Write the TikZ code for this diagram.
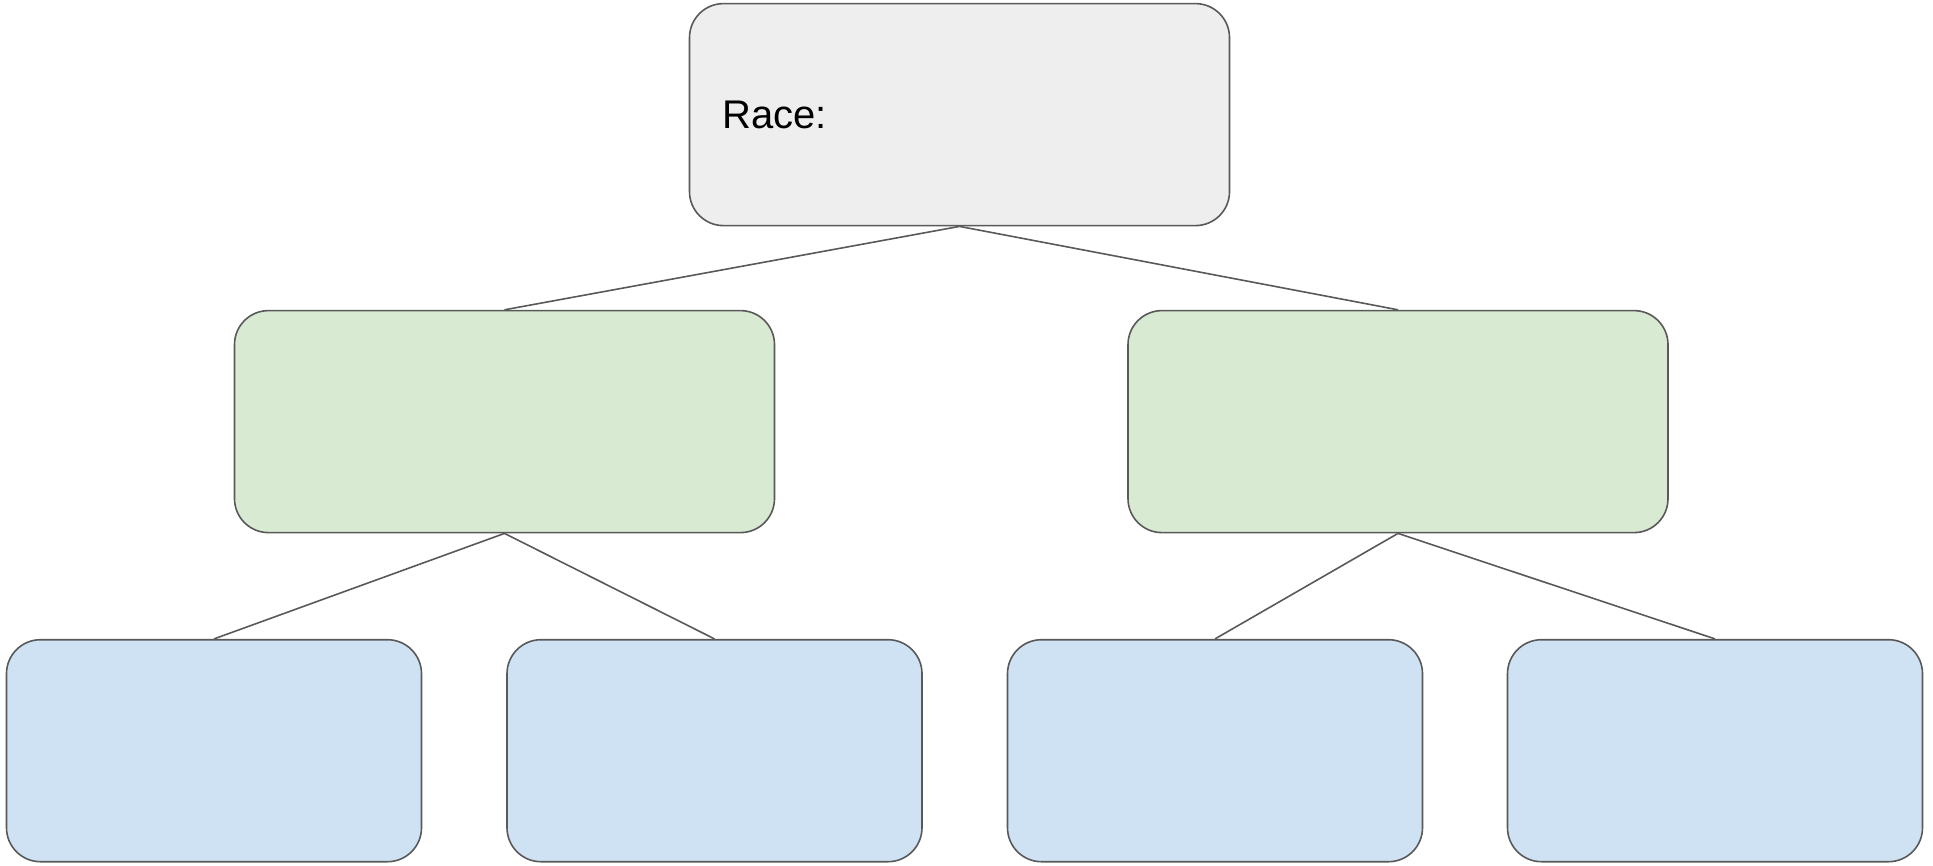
\documentclass[tikz,border=0pt]{standalone}
\usepackage{fontspec}
\setmainfont{Liberation Sans}
\definecolor{edgegray}{HTML}{595959}
\definecolor{rootfill}{HTML}{EEEEEE}
\definecolor{midfill}{HTML}{D9EAD3}
\definecolor{leaffill}{HTML}{CFE2F3}
\begin{document}
\begin{tikzpicture}[x=1pt,y=-1pt,
  box/.style={draw=edgegray, line width=1.6pt, rounded corners=34pt,
    minimum height=222pt, inner sep=0pt, anchor=center},
  widebox/.style={box, minimum width=540pt},
  leafbox/.style={box, minimum width=415pt, fill=leaffill},
  conn/.style={draw=edgegray, line width=1.6pt}]
\useasboundingbox (0,0) rectangle (1933,865);

% root
\node[widebox, fill=rootfill, text width=474pt, align=left,
  font=\fontsize{40}{48}\selectfont] (root) at (959.5,114.6) {Race:};

% second level
\node[widebox, fill=midfill] (ml) at (504.5,421.6) {};
\node[widebox, fill=midfill] (mr) at (1398,421.6) {};

% leaves
\node[leafbox] (l1) at (214,750.7) {};
\node[leafbox] (l2) at (714.5,750.7) {};
\node[leafbox] (l3) at (1215,750.7) {};
\node[leafbox] (l4) at (1715,750.7) {};

% connectors
\draw[conn] (root.south) -- (ml.north);
\draw[conn] (root.south) -- (mr.north);
\draw[conn] (ml.south) -- (l1.north);
\draw[conn] (ml.south) -- (l2.north);
\draw[conn] (mr.south) -- (l3.north);
\draw[conn] (mr.south) -- (l4.north);
\end{tikzpicture}
\end{document}
